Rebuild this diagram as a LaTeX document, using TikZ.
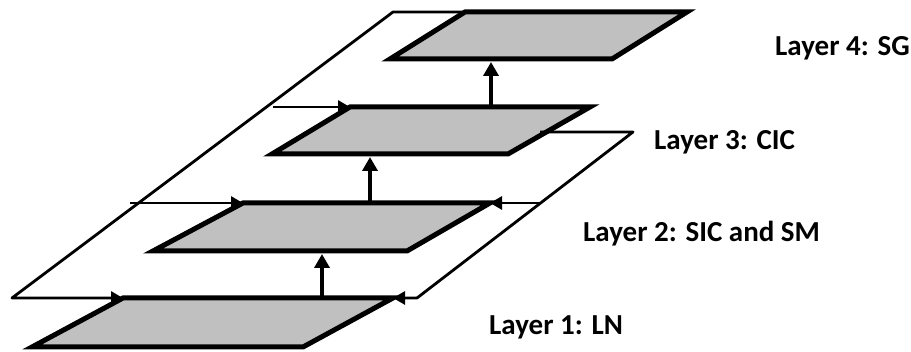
\documentclass[tikz,border=0pt]{standalone}
\usepackage{fontspec}
\setmainfont{Carlito}
\usetikzlibrary{arrows.meta}
\definecolor{LayerGray}{HTML}{C0C0C0}

\begin{document}
\begin{tikzpicture}[x=1pt, y=-1pt,
    layer/.style={draw=black, fill=LayerGray, line width=5pt},
    rim/.style={draw=black, line width=2.8pt, line join=round},
    link/.style={rim, -{Triangle[length=12pt,width=13pt]}},
    lift/.style={draw=black, line width=4pt, -{Triangle[length=14pt,width=15pt]}},
    lbl/.style={anchor=base west, inner sep=0pt, font=\fontsize{29}{32}\selectfont\bfseries}]
  \useasboundingbox (0,0) rectangle (911,352);

  % Layers: number / top y / bottom y / corners tl, tr, br, bl
  \foreach \n/\ty/\by/\tl/\tr/\br/\bl in {1/298/347/123/393/303/32,
                                          2/203/251/243/490/407/153,
                                          3/107/154/350/590/508/272,
                                          4/12/59/465/687/612/390} {
      \coordinate (L\n-tl) at (\tl,\ty);
      \coordinate (L\n-tr) at (\tr,\ty);
      \coordinate (L\n-br) at (\br,\by);
      \coordinate (L\n-bl) at (\bl,\by);
      \filldraw[layer] (L\n-tl) -- (L\n-tr) -- (L\n-br) -- (L\n-bl) -- cycle;
  }

  % Left frame
  \coordinate (lcorner) at (12,298);
  \coordinate (ltop) at (393,12);
  \coordinate (lin2) at (130,203);
  \coordinate (lin3) at (273,107);
  \draw[link] (L4-tl) -- (ltop) -- (lcorner) -- (L1-tl);
  \draw[link] (lin2) -- (L2-tl);
  \draw[link] (lin3) -- (L3-tl);

  % Right frame
  \coordinate (rstart) at (540,132);
  \coordinate (rtop) at (633,132);
  \coordinate (rcorner) at (417,298);
  \coordinate (rin2) at (541,203);
  \draw[link] (rstart) -- (rtop) -- (rcorner) -- (L1-tr);
  \draw[link] (rin2) -- (L2-tr);

  % Upward arrows between layers
  \foreach \a/\b/\x/\ys/\ye in {1/2/322/298/254, 2/3/370/203/157, 3/4/491/107/62} {
      \coordinate (up\a-s) at (\x,\ys);
      \coordinate (up\a-e) at (\x,\ye);
      \draw[lift] (up\a-s) -- (up\a-e);
  }

  % Labels
  \node[lbl] (lab4) at (775,56) {Layer 4: SG};
  \node[lbl] (lab3) at (654,150) {Layer 3: CIC};
  \node[lbl] (lab2) at (583,242) {Layer 2: SIC and SM};
  \node[lbl] (lab1) at (489,335) {Layer 1: LN};
\end{tikzpicture}
\end{document}
